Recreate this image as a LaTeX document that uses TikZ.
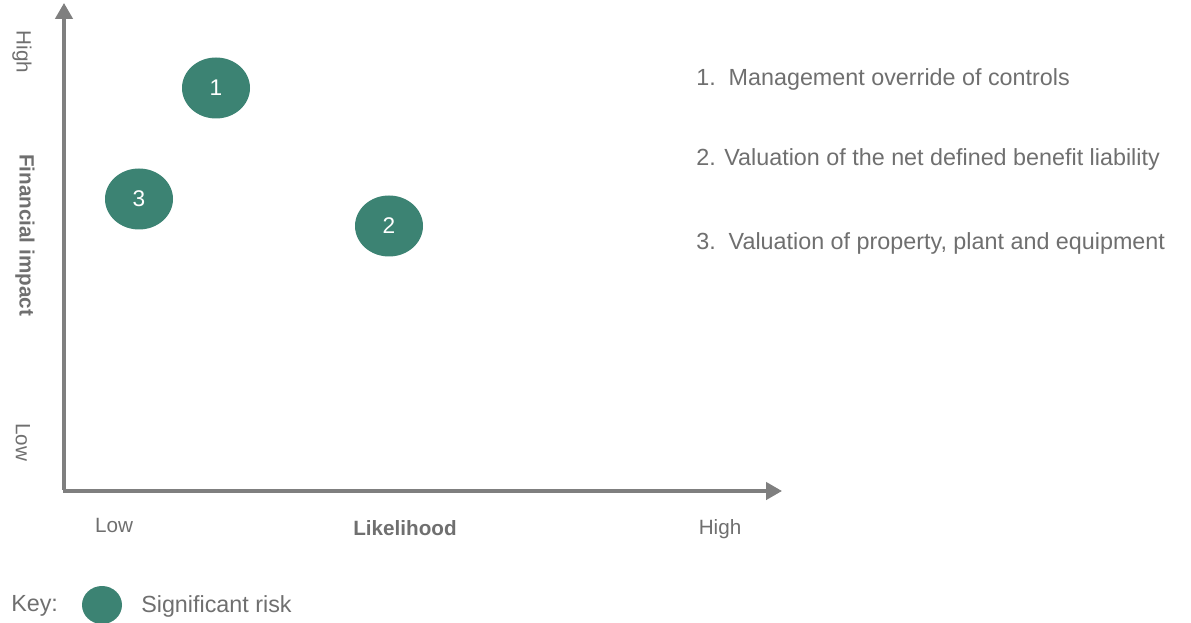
\documentclass[tikz,border=0pt]{standalone}
\usepackage{fontspec}
\setmainfont{Liberation Sans}
\usepackage{tikz}
\usetikzlibrary{arrows.meta, shapes, positioning}
\definecolor{riskgreen}{HTML}{3C8373}
\definecolor{axisgray}{HTML}{7F7F7F}
\definecolor{textgray}{HTML}{6F6F6F}
\tikzset{
    risknode/.style = {draw=none, fill=riskgreen, ellipse, inner sep = 0em, minimum width=68*0.75pt,
      minimum height=61*0.75pt, text=white, font=\fontsize{17}{20}\selectfont},
    keynode/.style = {draw=none, fill=riskgreen, ellipse, inner sep = 0em, minimum width=40*0.75pt,
      minimum height=38*0.75pt},
    textnode/.style = {draw=none, fill=none, rectangle, inner sep = 0em, text=textgray,
      font=\fontsize{15.5}{18}\selectfont},
    listnode/.style = {textnode, anchor=west, font=\fontsize{17.5}{21}\selectfont},
    axis/.style = {axisgray, line width=2.6pt, -{Triangle[length=12pt, width=13pt]}}
}
\begin{document}
\begin{tikzpicture}[x=0.75pt, y=-0.75pt]
    \useasboundingbox (0,0) rectangle (1191,623);

    % axes
    \coordinate (origin) at (64,491);
    \coordinate (ytip) at (64,3);
    \coordinate (xtip) at (782,491);
    \draw[axis] ([yshift=1pt]origin) -- (ytip);
    \draw[axis] ([xshift=-1pt]origin) -- (xtip);

    % axis labels
    \node [textnode, name=xlow] at (114,525) {Low};
    \node [textnode, name=xlabel] at (405,528) {\bfseries Likelihood};
    \node [textnode, name=xhigh] at (720,529) {High};
    \node [textnode, name=ylow, rotate=-90] at (23,442) {Low};
    \node [textnode, name=ylabel, rotate=-90] at (25,235) {\bfseries Financial impact};
    \node [textnode, name=yhigh, rotate=-90] at (22,52) {High};

    % risks
    \node [risknode, name=risk1] at (216,88) {1};
    \node [risknode, name=risk2] at (389,226) {2};
    \node [risknode, name=risk3] at (139,199) {3};

    % list
    \node [listnode, name=item1] at (696,79) {1.\ \ Management override of controls};
    \node [listnode, name=item2] at (696,159) {2. Valuation of the net defined benefit liability};
    \node [listnode, name=item3] at (696,243) {3.\ \ Valuation of property, plant and equipment};

    % key
    \node [textnode, name=keylabel, anchor=west, font=\fontsize{17.5}{20}\selectfont] at (11,606) {Key:};
    \node [keynode, name=keyrisk] at (102,605) {};
    \node [textnode, name=keytext, anchor=west, font=\fontsize{17.5}{20}\selectfont] at (141,606) {Significant risk};
\end{tikzpicture}
\end{document}
